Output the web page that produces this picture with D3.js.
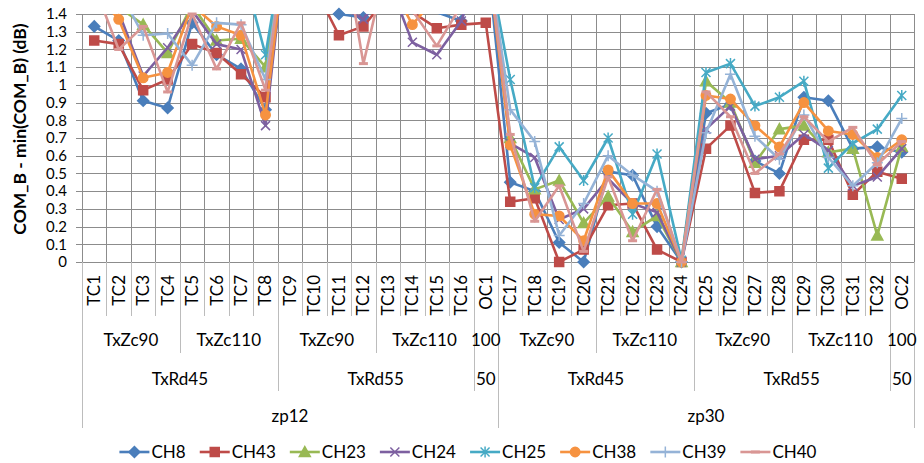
<!DOCTYPE html>
<html>
<head>
<meta charset="utf-8">
<script src="https://cdn.jsdelivr.net/npm/d3@7"></script>
<style>
  body { margin: 0; background: #fff; }
  svg { display: block; font-family: Lato, "Noto Sans", sans-serif; }
</style>
</head>
<body>
<svg id="chart" width="924" height="463"></svg>
<script>
const rep = (label, n) => Array(n).fill(label);

// category axis, innermost level first
const categories = [
    "TC1", "TC2", "TC3", "TC4", "TC5", "TC6", "TC7", "TC8",
    "TC9", "TC10", "TC11", "TC12", "TC13", "TC14", "TC15", "TC16", "OC1",
    "TC17", "TC18", "TC19", "TC20", "TC21", "TC22", "TC23", "TC24",
    "TC25", "TC26", "TC27", "TC28", "TC29", "TC30", "TC31", "TC32", "OC2"
];
const zcLevel = [
    ...rep("TxZc90", 4), ...rep("TxZc110", 4), ...rep("TxZc90", 4), ...rep("TxZc110", 4), "100",
    ...rep("TxZc90", 4), ...rep("TxZc110", 4), ...rep("TxZc90", 4), ...rep("TxZc110", 4), "100"
];
const rdLevel = [
    ...rep("TxRd45", 8), ...rep("TxRd55", 8), "50",
    ...rep("TxRd45", 8), ...rep("TxRd55", 8), "50"
];
const zpLevel = [...rep("zp12", 17), ...rep("zp30", 17)];

const yTicks = [0, 0.1, 0.2, 0.3, 0.4, 0.5, 0.6, 0.7, 0.8, 0.9, 1, 1.1, 1.2, 1.3, 1.4];

// series values (values above 1.4 run off the top of the plot)
const ch8 = [1.33, 1.25, 0.91, 0.87, 1.35, 1.17, 1.09, 0.86, 1.95, 1.6, 1.40, 1.38, 1.5, 1.46, 1.41, 1.36, 1.8,
    0.45, 0.40, 0.11, 0.00, 0.51, 0.49, 0.20, 0.00, 0.84, 0.89, 0.57, 0.50, 0.93, 0.91, 0.64, 0.65, 0.62];
const ch43 = [1.25, 1.23, 0.97, 1.03, 1.23, 1.18, 1.06, 0.93, 1.9, 1.55, 1.28, 1.33, 1.5, 1.41, 1.32, 1.34, 1.35,
    0.34, 0.36, 0.00, 0.07, 0.32, 0.33, 0.07, 0.00, 0.64, 0.77, 0.39, 0.40, 0.69, 0.69, 0.38, 0.51, 0.47];
const ch23 = [1.6, 1.44, 1.34, 1.18, 1.45, 1.25, 1.26, 1.10, 2.0, 1.8, 1.7, 1.6, 1.7, 1.6, 1.7, 1.8, 1.85,
    0.70, 0.41, 0.46, 0.22, 0.37, 0.17, 0.26, 0.00, 1.02, 0.90, 0.56, 0.75, 0.77, 0.62, 0.64, 0.15, 0.65];
const ch24 = [1.5, 1.41, 1.05, 1.21, 1.42, 1.23, 1.20, 0.77, 2.0, 1.7, 1.45, 1.37, 1.6, 1.24, 1.17, 1.36, 1.8,
    0.67, 0.59, 0.24, 0.30, 0.47, 0.33, 0.28, 0.00, 0.75, 0.88, 0.58, 0.60, 0.72, 0.63, 0.43, 0.48, 0.64];
const ch25 = [1.7, 1.75, 1.7, 1.65, 1.8, 1.75, 1.69, 1.17, 2.0, 1.9, 1.8, 1.8, 1.9, 1.8, 1.8, 1.9, 1.77,
    1.03, 0.42, 0.65, 0.46, 0.70, 0.27, 0.61, 0.01, 1.07, 1.12, 0.88, 0.93, 1.02, 0.53, 0.67, 0.75, 0.94];
const ch38 = [1.53, 1.37, 1.04, 1.07, 1.45, 1.33, 1.28, 0.83, 2.0, 1.8, 1.7, 1.6, 1.6, 1.34, 1.5, 1.7, 1.8,
    0.66, 0.27, 0.26, 0.12, 0.52, 0.33, 0.33, 0.00, 0.94, 0.92, 0.77, 0.65, 0.90, 0.74, 0.72, 0.59, 0.69];
const ch39 = [1.6, 1.54, 1.28, 1.29, 1.11, 1.35, 1.34, 1.03, 2.0, 1.8, 1.7, 1.7, 1.7, 1.6, 1.6, 1.7, 1.8,
    0.86, 0.68, 0.15, 0.33, 0.60, 0.49, 0.40, 0.00, 0.73, 1.06, 0.71, 0.58, 0.83, 0.59, 0.43, 0.56, 0.81];
const ch40 = [1.56, 1.20, 1.33, 0.96, 1.40, 1.09, 1.35, 0.97, 2.0, 1.8, 1.94, 1.12, 1.71, 1.42, 1.22, 1.45, 1.8,
    0.72, 0.23, 0.43, 0.06, 0.48, 0.12, 0.41, 0.00, 0.96, 0.82, 0.50, 0.61, 0.82, 0.68, 0.76, 0.55, 0.68];

const seriesNames = ["CH8", "CH43", "CH23", "CH24", "CH25", "CH38", "CH39", "CH40"];
const seriesValues = [ch8, ch43, ch23, ch24, ch25, ch38, ch39, ch40];
const seriesColors = ["#4A7EBB", "#BE4B48", "#98B954", "#7D60A0", "#46AAC5", "#F69240", "#95B3D7", "#D99694"];
const seriesMarkers = ["diamond", "square", "triangle", "x", "star", "circle", "plus", "dash"];

const margins = { top: 14, right: 10, bottom: 201, left: 82 };
const width = 924;
const height = 463;
const yMax = 1.4;

const svg = d3.select("#chart");

const x = d3.scaleBand()
    .domain(d3.range(categories.length))
    .range([margins.left, width - margins.right])
    .padding(0);

const y = d3.scaleLinear()
    .domain([0, yMax])
    .range([height - margins.bottom, margins.top]);

const plotBottom = y(0);
const rowBottoms = [plotBottom + 54, plotBottom + 91, plotBottom + 129, plotBottom + 166];

// gridlines
const grid = svg.append("g").attr("stroke", "#8c8c8c").attr("stroke-width", 1).attr("shape-rendering", "crispEdges");
grid.selectAll(".hgrid")
    .data(yTicks)
    .join("line")
    .attr("x1", margins.left - 6)
    .attr("x2", width - margins.right)
    .attr("y1", d => Math.round(y(d)) + 0.5)
    .attr("y2", d => Math.round(y(d)) + 0.5);
grid.selectAll(".vgrid")
    .data(d3.range(categories.length + 1))
    .join("line")
    .attr("x1", i => Math.round(x.step() * i + margins.left) + 0.5)
    .attr("x2", i => Math.round(x.step() * i + margins.left) + 0.5)
    .attr("y1", margins.top)
    .attr("y2", plotBottom);

// y axis labels
svg.append("g")
    .selectAll("text")
    .data(yTicks)
    .join("text")
    .attr("x", margins.left - 15)
    .attr("y", d => y(d))
    .attr("dy", "0.35em")
    .attr("text-anchor", "end")
    .attr("font-size", 15)
    .attr("fill", "#000")
    .text(d => String(+d.toFixed(1)));

svg.append("text")
    .attr("transform", `translate(20,129) rotate(-90)`)
    .attr("dy", "0.35em")
    .attr("text-anchor", "middle")
    .attr("font-size", 17.5)
    .attr("font-weight", "bold")
    .text("COM_B - min(COM_B) (dB)");

// multi level category axis
const boundaryDepth = (i) => {
    if (i === 0 || i === categories.length) return 3;
    if (zpLevel[i] !== zpLevel[i - 1]) return 3;
    if (rdLevel[i] !== rdLevel[i - 1]) return 2;
    if (zcLevel[i] !== zcLevel[i - 1]) return 1;
    return 0;
};

svg.append("g")
    .attr("stroke", "#bcbcbc")
    .attr("shape-rendering", "crispEdges")
    .selectAll("line")
    .data(d3.range(categories.length + 1))
    .join("line")
    .attr("x1", i => Math.round(x.step() * i + margins.left) + 0.5)
    .attr("x2", i => Math.round(x.step() * i + margins.left) + 0.5)
    .attr("y1", plotBottom)
    .attr("y2", i => rowBottoms[boundaryDepth(i)]);

svg.append("g")
    .selectAll("text")
    .data(categories)
    .join("text")
    .attr("transform", (d, i) => `translate(${x(i) + x.bandwidth() / 2},${plotBottom + 13}) rotate(-90)`)
    .attr("dy", "0.35em")
    .attr("text-anchor", "end")
    .attr("font-size", 17)
    .text(d => d);

groupSpans = (keys) => {
    const spans = [];
    keys.forEach((k, i) => {
        if (spans.length && spans[spans.length - 1].key === k) spans[spans.length - 1].end = i;
        else spans.push({ key: k, start: i, end: i });
    });
    return spans;
};

const levelRows = [
    { labels: zcLevel, keys: zcLevel.map((d, i) => zpLevel[i] + rdLevel[i] + d), cy: plotBottom + 78 },
    { labels: rdLevel, keys: rdLevel.map((d, i) => zpLevel[i] + d), cy: plotBottom + 117 },
    { labels: zpLevel, keys: zpLevel, cy: plotBottom + 154 }
];

levelRows.forEach(row => {
    svg.append("g")
        .selectAll("text")
        .data(groupSpans(row.keys))
        .join("text")
        .attr("x", d => (x(d.start) + x(d.end) + x.bandwidth()) / 2)
        .attr("y", row.cy)
        .attr("dy", "0.35em")
        .attr("text-anchor", "middle")
        .attr("font-size", 17)
        .text(d => row.labels[d.start]);
});

// markers
markerPath = (type) => {
    switch (type) {
        case "diamond": return "M0,-5.5L5.5,0L0,5.5L-5.5,0Z";
        case "square": return "M-4.5,-4.5H4.5V4.5H-4.5Z";
        case "triangle": return "M0,-5.5L5.5,4.5H-5.5Z";
        case "x": return "M-4.5,-4.5L4.5,4.5M-4.5,4.5L4.5,-4.5";
        case "star": return "M-4.5,-4.5L4.5,4.5M-4.5,4.5L4.5,-4.5M0,-5.5V5.5";
        case "circle": return d3.symbol(d3.symbolCircle, 70)();
        case "plus": return "M-5.5,0H5.5M0,-5.5V5.5";
        case "dash": return "M-4.5,0H4.5";
    }
};
const strokeOnly = ["x", "star", "plus", "dash"];

svg.append("clipPath")
    .attr("id", "plot-clip")
    .append("rect")
    .attr("x", margins.left)
    .attr("y", margins.top)
    .attr("width", width - margins.right - margins.left)
    .attr("height", plotBottom - margins.top);

const line = d3.line()
    .x((d, i) => x(i) + x.bandwidth() / 2)
    .y(d => y(d));

const seriesG = svg.append("g");
seriesValues.forEach((vals, s) => {
    const g = seriesG.append("g");
    g.append("path")
        .attr("clip-path", "url(#plot-clip)")
        .attr("d", line(vals))
        .attr("fill", "none")
        .attr("stroke", seriesColors[s])
        .attr("stroke-width", 2.6)
        .attr("stroke-linejoin", "round");

    const type = seriesMarkers[s];
    g.selectAll(".marker")
        .data(vals.map((v, i) => ({ v, i })).filter(d => d.v <= yMax + 0.001))
        .join("path")
        .attr("transform", d => `translate(${x(d.i) + x.bandwidth() / 2},${y(d.v)})`)
        .attr("d", markerPath(type))
        .attr("fill", strokeOnly.includes(type) ? "none" : seriesColors[s])
        .attr("stroke", seriesColors[s])
        .attr("stroke-width", type === "dash" ? 3 : 1.5);
});

// legend
const legendY = 452;
const legend = svg.append("g");
const items = legend.selectAll("g")
    .data(seriesNames)
    .join("g");
items.append("line")
    .attr("x1", 0).attr("x2", 30)
    .attr("y1", legendY).attr("y2", legendY)
    .attr("stroke", (d, i) => seriesColors[i])
    .attr("stroke-width", 2.6);
items.append("path")
    .attr("transform", `translate(15,${legendY})`)
    .attr("d", (d, i) => markerPath(seriesMarkers[i]))
    .attr("fill", (d, i) => strokeOnly.includes(seriesMarkers[i]) ? "none" : seriesColors[i])
    .attr("stroke", (d, i) => seriesColors[i])
    .attr("stroke-width", (d, i) => seriesMarkers[i] === "dash" ? 3 : 1.5);
items.append("text")
    .attr("x", 32)
    .attr("y", legendY)
    .attr("dy", "0.35em")
    .attr("font-size", 17)
    .text(d => d);

let cursor = 0;
items.each(function () {
    const w = this.getBBox().width;
    d3.select(this).attr("transform", `translate(${cursor},0)`);
    cursor += w + 14;
});
const legendWidth = cursor - 14;
legend.attr("transform", `translate(${(margins.left + width - margins.right) / 2 - legendWidth / 2 - 30},0)`);
</script>
</body>
</html>
